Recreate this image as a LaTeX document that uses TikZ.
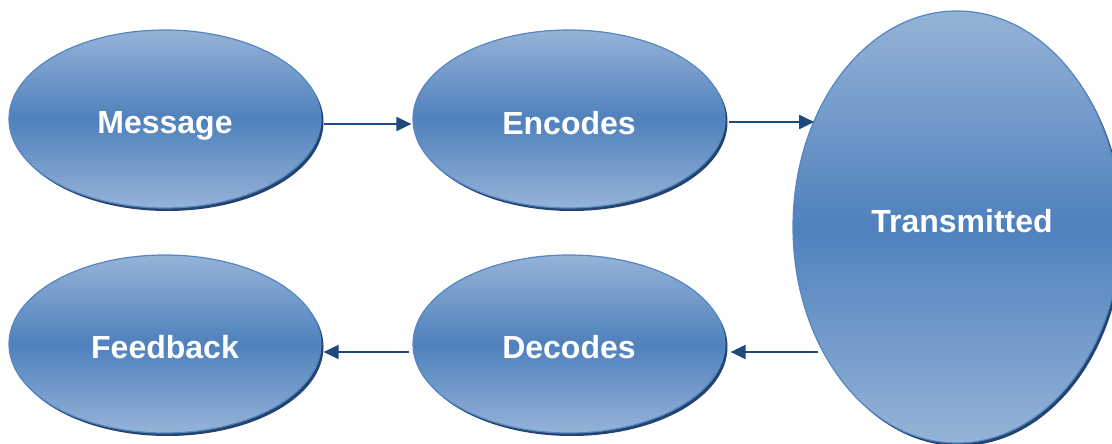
\documentclass[tikz,border=0pt]{standalone}
\usepackage{fontspec}
\setmainfont{Liberation Sans}
\usetikzlibrary{shapes.geometric,shadows,arrows.meta}
\definecolor{lightblue}{RGB}{149,179,215}
\definecolor{midblue}{RGB}{79,129,189}
\definecolor{edgeblue}{RGB}{84,134,196}
\definecolor{shadowblue}{RGB}{36,68,110}
\definecolor{arrowblue}{RGB}{31,73,125}
\tikzset{
  bubble/.style={ellipse, draw=edgeblue, line width=1.2pt,
    top color=lightblue, bottom color=lightblue, middle color=midblue,
    drop shadow={shadow xshift=2.5pt, shadow yshift=-3pt, fill=shadowblue, opacity=1},
    text=white, font=\bfseries\fontsize{32}{36}\selectfont, inner sep=0pt,
    text height=22.5pt, text depth=0pt},
  flow/.style={draw=arrowblue, line width=2pt, -{Triangle[length=15pt,width=14pt]}}
}
\begin{document}
\begin{tikzpicture}[x=1pt,y=-1pt]
\useasboundingbox (0,0) rectangle (1112,444);
\clip (0,0) rectangle (1112,444);
\node[bubble, minimum width=312pt, minimum height=178pt] (msg) at (165,119) {\raisebox{-3.5pt}{Message}};
\node[bubble, minimum width=312pt, minimum height=178pt] (enc) at (569,119) {\raisebox{-4pt}{Encodes}};
\node[bubble, minimum width=328pt, minimum height=432pt] (trans) at (957,227) {\kern10pt\raisebox{5.5pt}{Transmitted}};
\node[bubble, minimum width=312pt, minimum height=178pt] (fb) at (165,344) {\raisebox{-3.5pt}{Feedback}};
\node[bubble, minimum width=312pt, minimum height=178pt] (dec) at (569,344) {\raisebox{-3.5pt}{Decodes}};
\draw[flow] ([xshift=2pt,yshift=-5pt]msg.east) -- ([xshift=-1pt,yshift=-5pt]enc.west);
\draw[flow] ([xshift=3pt,yshift=-3pt]enc.east) -- ([yshift=-3pt]enc.east -| trans.143.7);
\draw[flow] ([xshift=-5pt,yshift=-8pt]dec.east -| trans.223) -- ([xshift=5pt,yshift=-8pt]dec.east);
\draw[flow] ([xshift=-3pt,yshift=-8pt]dec.west) -- ([xshift=2pt,yshift=-8pt]fb.east);
\end{tikzpicture}
\end{document}
